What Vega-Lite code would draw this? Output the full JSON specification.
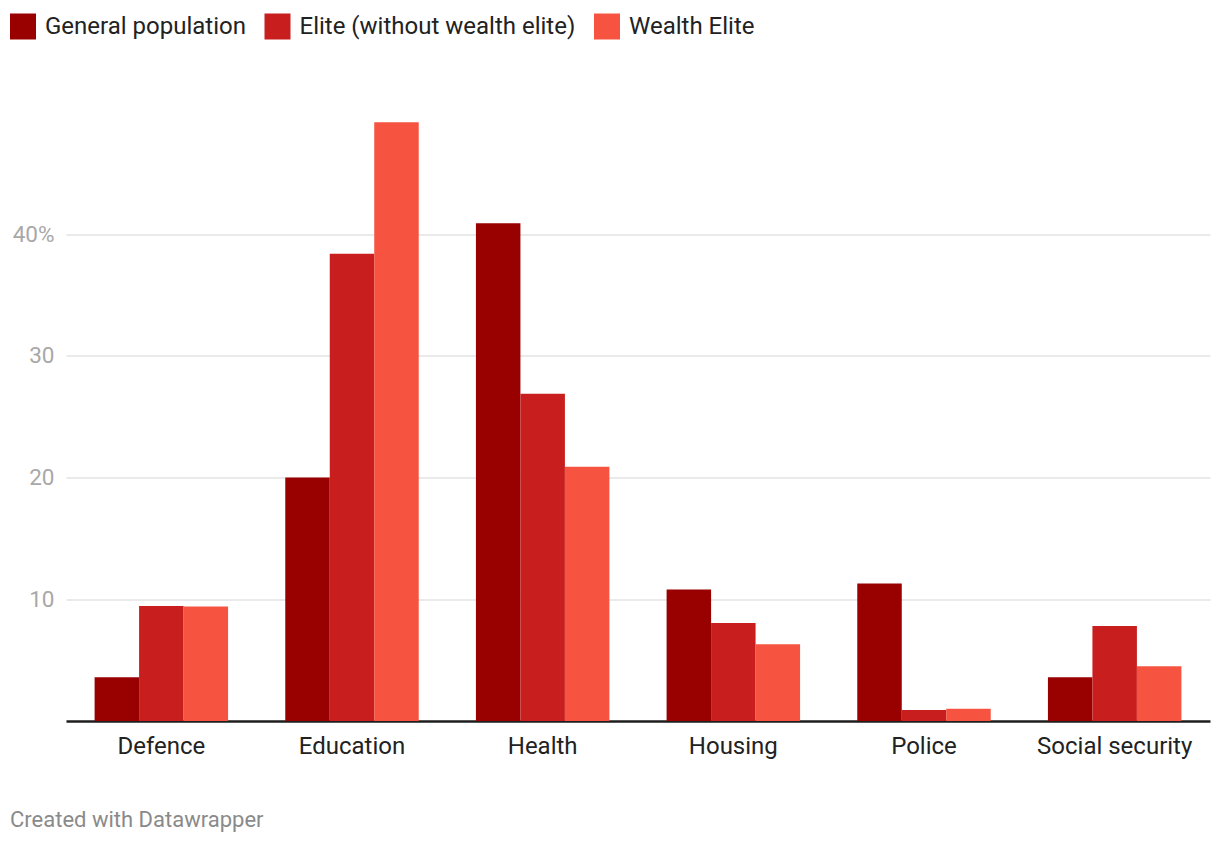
{
  "$schema": "https://vega.github.io/schema/vega-lite/v6.json",
  "width": 1144,
  "height": 608.5,
  "autosize": {"type": "none"},
  "padding": {"left": 66, "top": 112.5, "right": 10, "bottom": 123},
  "background": "white",
  "config": {
    "font": "Roboto",
    "view": {"stroke": null}
  },
  "title": {
    "text": "Created with Datawrapper",
    "orient": "bottom",
    "anchor": "start",
    "frame": "group",
    "dx": -56,
    "offset": 52,
    "fontSize": 22,
    "fontWeight": "normal",
    "color": "#8a8a8a",
    "font": "Roboto"
  },
  "data": {
    "values": [
      {"category": "Defence", "group": "General population", "value": 3.6},
      {"category": "Defence", "group": "Elite (without wealth elite)", "value": 9.45},
      {"category": "Defence", "group": "Wealth Elite", "value": 9.4},
      {"category": "Education", "group": "General population", "value": 20.0},
      {"category": "Education", "group": "Elite (without wealth elite)", "value": 38.4},
      {"category": "Education", "group": "Wealth Elite", "value": 49.2},
      {"category": "Health", "group": "General population", "value": 40.9},
      {"category": "Health", "group": "Elite (without wealth elite)", "value": 26.9},
      {"category": "Health", "group": "Wealth Elite", "value": 20.9},
      {"category": "Housing", "group": "General population", "value": 10.8},
      {"category": "Housing", "group": "Elite (without wealth elite)", "value": 8.05},
      {"category": "Housing", "group": "Wealth Elite", "value": 6.3},
      {"category": "Police", "group": "General population", "value": 11.3},
      {"category": "Police", "group": "Elite (without wealth elite)", "value": 0.9},
      {"category": "Police", "group": "Wealth Elite", "value": 1.0},
      {"category": "Social security", "group": "General population", "value": 3.6},
      {"category": "Social security", "group": "Elite (without wealth elite)", "value": 7.8},
      {"category": "Social security", "group": "Wealth Elite", "value": 4.5}
    ]
  },
  "mark": {"type": "bar"},
  "encoding": {
    "x": {
      "field": "category",
      "type": "nominal",
      "sort": null,
      "scale": {"paddingInner": 0.3, "paddingOuter": 0.15},
      "axis": {
        "title": null,
        "labelAngle": 0,
        "labelFontSize": 24,
        "labelColor": "#222222",
        "labelPadding": 13,
        "ticks": false,
        "domain": true,
        "domainColor": "#1e1e1e",
        "domainWidth": 2.5,
        "grid": false
      }
    },
    "xOffset": {
      "field": "group",
      "type": "nominal",
      "sort": ["General population", "Elite (without wealth elite)", "Wealth Elite"],
      "scale": {"paddingInner": 0, "paddingOuter": 0}
    },
    "y": {
      "field": "value",
      "type": "quantitative",
      "scale": {"domain": [0, 50], "nice": false},
      "axis": {
        "title": null,
        "values": [10, 20, 30, 40],
        "labelExpr": "datum.value == 40 ? '40%' : datum.label",
        "labelFontSize": 22.5,
        "labelColor": "#a8a8a8",
        "labelPadding": 12,
        "ticks": false,
        "domain": false,
        "grid": true,
        "gridColor": "#e3e3e3",
        "gridWidth": 1.5
      }
    },
    "color": {
      "field": "group",
      "type": "nominal",
      "sort": ["General population", "Elite (without wealth elite)", "Wealth Elite"],
      "scale": {
        "domain": ["General population", "Elite (without wealth elite)", "Wealth Elite"],
        "range": ["#990000", "#c81e1e", "#f65441"]
      },
      "legend": {
        "title": null,
        "orient": "none",
        "direction": "horizontal",
        "legendX": -56,
        "legendY": -99,
        "symbolType": "square",
        "symbolSize": 676,
        "symbolStrokeWidth": 0,
        "symbolOpacity": 1,
        "labelFontSize": 24,
        "labelColor": "#222222",
        "labelOffset": 9,
        "columnPadding": 18.5,
        "labelLimit": 400
      }
    }
  }
}
